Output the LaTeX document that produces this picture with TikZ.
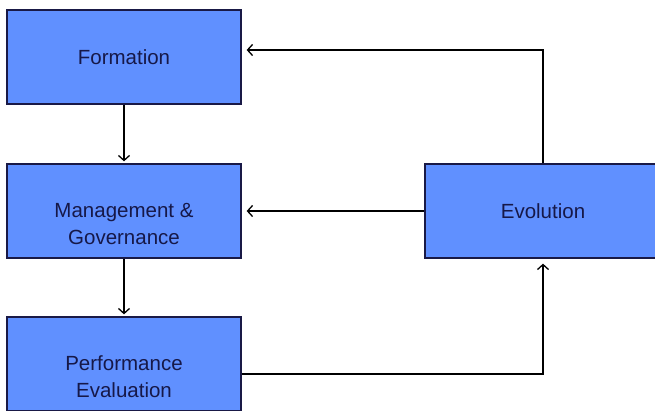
\documentclass[tikz,border=0pt]{standalone}
\usepackage{fontspec}
\setmainfont{Liberation Sans}
\usetikzlibrary{arrows.meta}
\definecolor{boxfill}{RGB}{96,144,255}
\definecolor{boxline}{RGB}{25,25,70}
\definecolor{txtcol}{RGB}{22,24,72}
\tikzset{
  box/.style={draw=boxline, fill=boxfill, line width=1.3pt, minimum width=234pt, minimum height=94pt, inner sep=0pt},
  txt/.style={text=txtcol, font=\fontsize{20.5}{27}\selectfont, align=center, inner sep=0pt},
  arr/.style={draw=black, line width=1.3pt, -{Straight Barb[length=5pt,width=11pt,line width=1.3pt]}},
}
\begin{document}
\begin{tikzpicture}[x=1pt,y=-1pt]
\useasboundingbox (0,0) rectangle (655,410);
\node[box] (fo) at (124,57) {};
\node[box] (mg) at (124,211) {};
\node[box] (pe) at (124,364) {};
\node[box, minimum width=236pt] (ev) at (543,211) {};
\node[txt] (tfo) at (fo.center) {Formation};
\node[txt] (tmg) at ([yshift=-13pt]mg.center) {Management \&\\Governance};
\node[txt] (tpe) at ([yshift=-13pt]pe.center) {Performance\\Evaluation};
\node[txt] (tev) at (ev.center) {Evolution};
\draw[arr, shorten >=2pt] (fo.south) -- (mg.north);
\draw[arr, shorten >=2pt] (mg.south) -- (pe.north);
\draw[arr, shorten >=5pt] (ev.north) |- ([yshift=7pt]fo.east);
\draw[arr, shorten >=5pt] (ev.west) -- (mg.east);
\draw[arr, shorten >=5pt] ([yshift=-10pt]pe.east) -| (ev.south);
\end{tikzpicture}
\end{document}
